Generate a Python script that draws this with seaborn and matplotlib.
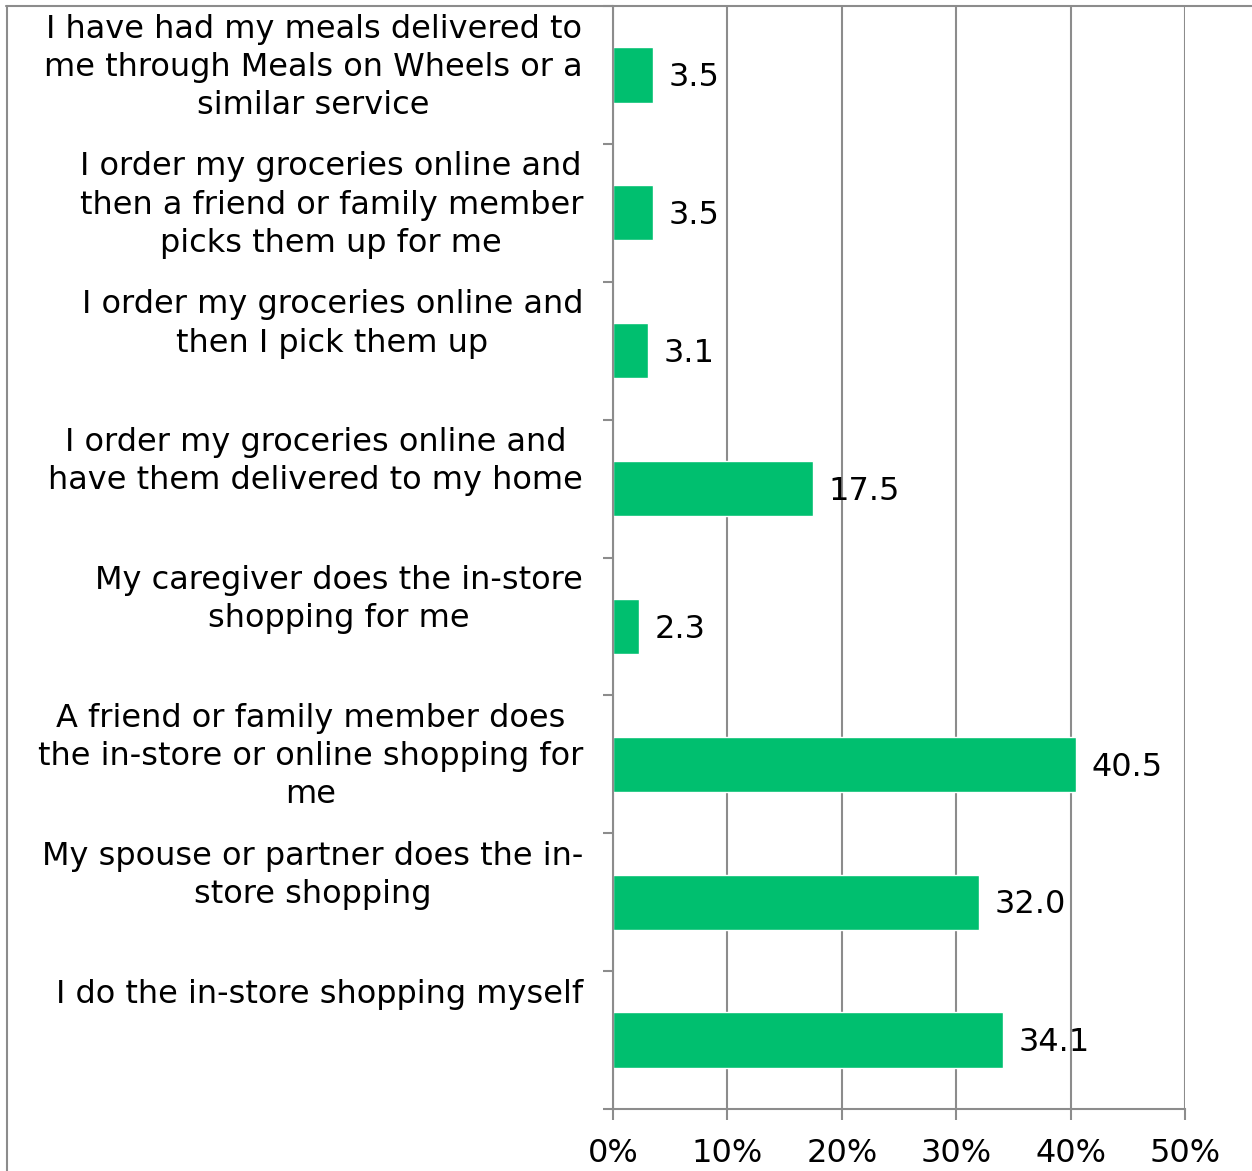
import pandas as pd
import matplotlib.pyplot as plt
import matplotlib.transforms as mtransforms
from matplotlib.lines import Line2D
import seaborn as sns

# data (top to bottom as in the chart)
answers = [
    'I have had my meals delivered to\nme through Meals on Wheels or a\nsimilar service',
    'I order my groceries online and\nthen a friend or family member\npicks them up for me',
    'I order my groceries online and\nthen I pick them up',
    'I order my groceries online and\nhave them delivered to my home',
    'My caregiver does the in-store\nshopping for me',
    'A friend or family member does\nthe in-store or online shopping for\nme',
    'My spouse or partner does the in-\nstore shopping',
    'I do the in-store shopping myself',
]
percents = [3.5, 3.5, 3.1, 17.5, 2.3, 40.5, 32.0, 34.1]
x_ticks = [0, 10, 20, 30, 40, 50]
x_tick_labels = ['0%', '10%', '20%', '30%', '40%', '50%']

df = pd.DataFrame({'answer': answers, 'percent': percents})

sns.set_style('white')
plt.rcParams['font.family'] = ['DejaVu Sans']
plt.rcParams['text.color'] = 'black'
plt.rcParams['xtick.color'] = 'black'

grey = '#8c8c8c'
fs = 23
W, H = 1252, 1171

fig = plt.figure(figsize=(W / 100, H / 100), dpi=100)
ax = fig.add_axes([613 / W, 62 / H, 572 / W, 1103 / H])

sns.barplot(data=df, x='percent', y='answer', order=answers, color='#00BF6F',
            saturation=1, width=0.4, ax=ax)
ax.set_axisbelow(True)

# value labels, sitting a touch below bar centre
value_texts = ax.bar_label(ax.containers[0], labels=[f'{v:.1f}' for v in percents],
                           padding=11, fontsize=fs, color='black')
for t in value_texts:
    t.xyann = (11, -2)

# axes look
ax.set_xlim(0, 50)
ax.set_ylim(len(answers) - 0.5, -0.5)
ax.set_xticks(x_ticks)
ax.set_xticklabels(x_tick_labels)
ax.set_yticks([i - 0.5 for i in range(len(answers) + 1)])
ax.set_yticklabels([])
ax.set_xlabel('')
ax.set_ylabel('')
ax.xaxis.grid(True, color=grey, linewidth=1.5)
ax.yaxis.grid(False)
for side in ['top', 'right']:
    ax.spines[side].set_visible(False)
for side in ['left', 'bottom']:
    ax.spines[side].set_color(grey)
    ax.spines[side].set_linewidth(1.5)
ax.tick_params(axis='y', left=True, direction='out', length=7, width=1.5, color=grey)
ax.tick_params(axis='x', bottom=True, direction='out', length=8, width=1.5, color=grey,
               labelsize=fs, labelcolor='black', pad=13)

# category labels, centered lines, hung from top of each slot
trans = mtransforms.blended_transform_factory(ax.transAxes, ax.transData)
for i, lab in enumerate(answers):
    ax.text(-30 / 572, i - 0.5 + 0.055, lab, transform=trans, ha='right', va='top',
            multialignment='center', fontsize=fs, linespacing=1.3,
            color='black', clip_on=False)

# chart border (top and left)
fig.add_artist(Line2D([6 / W, 1], [1 - 6 / H, 1 - 6 / H], transform=fig.transFigure,
                      color=grey, linewidth=1.5))
fig.add_artist(Line2D([7 / W, 7 / W], [0, 1 - 6 / H], transform=fig.transFigure,
                      color=grey, linewidth=1.5))

fig.savefig('out.png', dpi=100)
